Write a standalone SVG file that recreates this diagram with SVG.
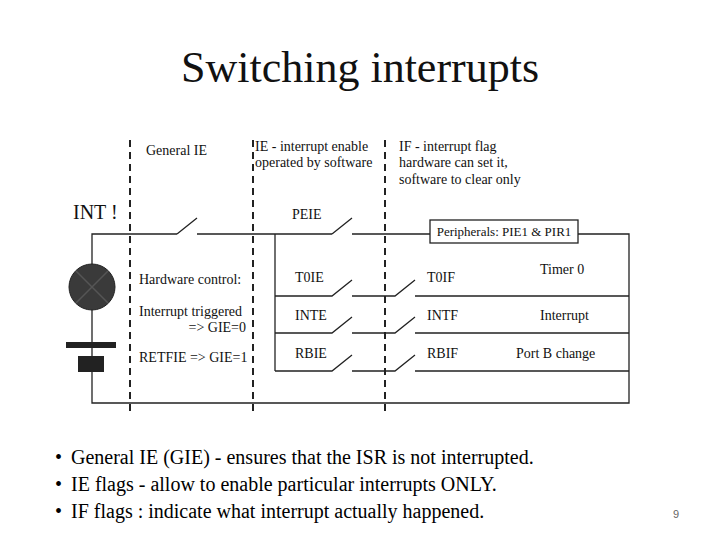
<svg xmlns="http://www.w3.org/2000/svg" width="720" height="540" viewBox="0 0 720 540">
<style>
text{font-family:"Liberation Serif","Times New Roman",serif;fill:#111}
.s{font-size:14px}
.w{stroke:#222;stroke-width:1.3;fill:none}
.d{stroke:#222;stroke-width:2;stroke-dasharray:7,5;fill:none}
.b{font-size:20px;fill:#000}
</style>
<rect width="720" height="540" fill="#fff"/>
<text x="360" y="82" text-anchor="middle" font-size="44">Switching interrupts</text>
<g id="dividers">
<line class="d" x1="130" y1="140" x2="130" y2="412"/>
<line class="d" x1="253" y1="140" x2="253" y2="412"/>
<line class="d" x1="385" y1="140" x2="385" y2="412"/>
</g>
<g id="connectors">
<path class="w" d="M177 234 H92 V403 H629 V234 H578 M430 234 H352 M332 234 H197"/>
<path class="w" d="M177 234 L197 218 M332 234 L352 218"/>
<path class="w" d="M275 234 V371"/>
<path class="w" d="M275 296 H332 L352 280 M352 296 H395 L415 280 M415 296 H629"/>
<path class="w" d="M275 333 H332 L352 317 M352 333 H395 L415 317 M415 333 H629"/>
<path class="w" d="M275 371 H332 L352 355 M352 371 H395 L415 355 M415 371 H629"/>
</g>
<g id="lamp">
<circle cx="92" cy="287" r="23" fill="#3a3a3a" stroke="#222"/>
<path d="M76 271 L108 303 M108 271 L76 303" stroke="#555" stroke-width="1.5"/>
</g>
<g id="battery">
<rect x="66" y="342" width="50" height="6" fill="#222"/>
<rect x="78" y="356" width="26" height="16" fill="#222"/>
</g>
<g id="peripherals">
<rect x="430" y="220" width="148" height="23" fill="#fff" stroke="#222" stroke-width="1.3"/>
<text x="504" y="236" text-anchor="middle" font-size="13">Peripherals: PIE1 &amp; PIR1</text>
</g>
<g id="labels">
<text x="73" y="219" font-size="20">INT !</text>
<text class="s" x="146" y="155">General IE</text>
<text class="s" x="255" y="151">IE - interrupt enable</text>
<text class="s" x="255" y="167">operated by software</text>
<text class="s" x="399" y="151">IF - interrupt flag</text>
<text class="s" x="399" y="167">hardware can set it,</text>
<text class="s" x="399" y="184">software to clear only</text>
<text class="s" x="292" y="219">PEIE</text>
<text class="s" x="139" y="284">Hardware control:</text>
<text class="s" x="139" y="316">Interrupt triggered</text>
<text class="s" x="246" y="332" text-anchor="end">=&gt; GIE=0</text>
<text class="s" x="139" y="362">RETFIE =&gt; GIE=1</text>
<text class="s" x="295" y="282">T0IE</text>
<text class="s" x="295" y="320">INTE</text>
<text class="s" x="295" y="358">RBIE</text>
<text class="s" x="427" y="282">T0IF</text>
<text class="s" x="427" y="320">INTF</text>
<text class="s" x="427" y="358">RBIF</text>
<text class="s" x="540" y="274">Timer 0</text>
<text class="s" x="540" y="320">Interrupt</text>
<text class="s" x="516" y="358">Port B change</text>
</g>
<g id="bullets">
<text class="b" x="55" y="464">•</text><text class="b" x="71" y="464">General IE (GIE) - ensures that the ISR is not interrupted.</text>
<text class="b" x="55" y="491">•</text><text class="b" x="71" y="491">IE flags - allow to enable particular interrupts ONLY.</text>
<text class="b" x="55" y="518">•</text><text class="b" x="71" y="518">IF flags : indicate what interrupt actually happened.</text>
<text x="673" y="518" font-size="11" style="fill:#666;font-family:'Liberation Sans',sans-serif">9</text>
</g>
</svg>
